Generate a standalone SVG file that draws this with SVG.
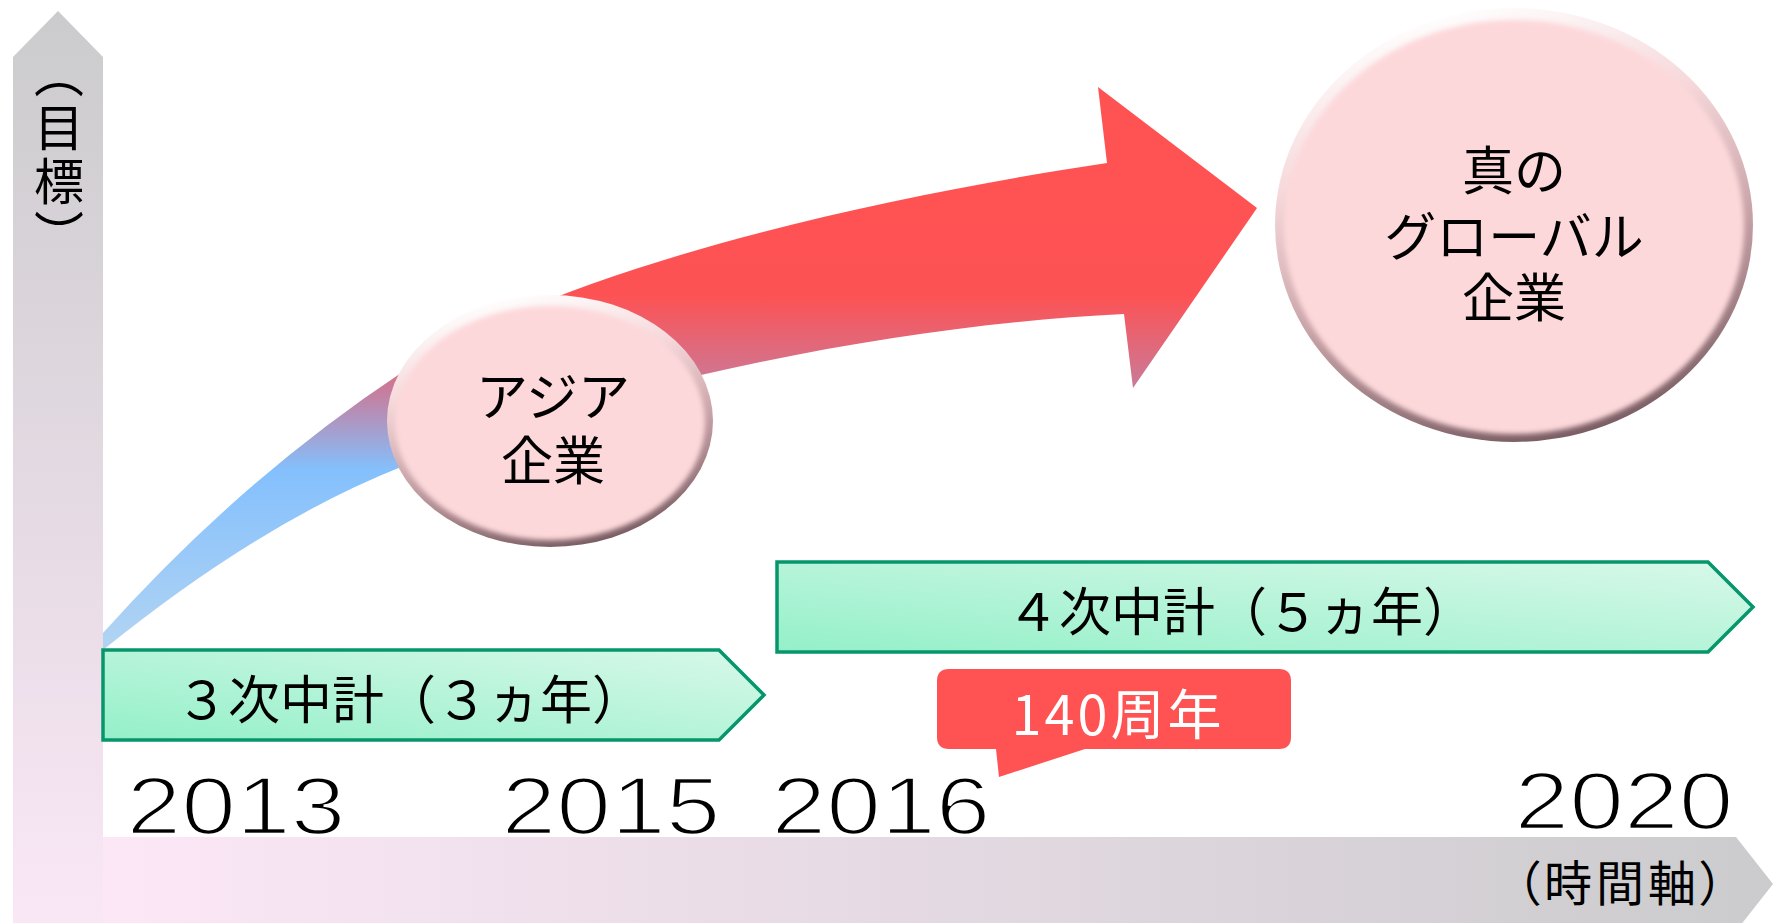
<svg xmlns="http://www.w3.org/2000/svg" width="1773" height="923" viewBox="0 0 1773 923">
<style>
.jp { font-family: "Noto Sans CJK JP", "Noto Sans CJK SC", sans-serif; fill: #000; }
.yr { font-family: "Liberation Sans", Arial, sans-serif; font-size: 82px; fill: #000; stroke: #fff; stroke-width: 2.6; text-anchor: middle; }
.box { fill: url(#gBox); stroke: #07966c; stroke-width: 3.5; stroke-linejoin: miter; }
.lbl { font-size: 52px; text-anchor: middle; }
</style>
<defs>
  <linearGradient id="gV" x1="0" y1="0" x2="0" y2="1">
    <stop offset="0" stop-color="#cbcbcd"/>
    <stop offset="1" stop-color="#fae7f6"/>
  </linearGradient>
  <linearGradient id="gH" x1="0" y1="0" x2="1" y2="0">
    <stop offset="0" stop-color="#fce7f7"/>
    <stop offset="1" stop-color="#cbcbcd"/>
  </linearGradient>
  <linearGradient id="gArrow" gradientUnits="userSpaceOnUse" x1="0" y1="87" x2="0" y2="650">
    <stop offset="0" stop-color="#ff5252"/>
    <stop offset="0.37" stop-color="#fd5254"/>
    <stop offset="0.535" stop-color="#c97b9a"/>
    <stop offset="0.68" stop-color="#84c0fd"/>
    <stop offset="1" stop-color="#b2d4f2"/>
  </linearGradient>
  <linearGradient id="gBox" x1="0" y1="1" x2="1" y2="0">
    <stop offset="0" stop-color="#94f0c9"/>
    <stop offset="1" stop-color="#d8f8e9"/>
  </linearGradient>
  <linearGradient id="gRim" x1="0.35" y1="0" x2="0.65" y2="1">
    <stop offset="0" stop-color="#ffffff"/>
    <stop offset="0.3" stop-color="#f6d8da"/>
    <stop offset="0.6" stop-color="#c9a4a9"/>
    <stop offset="1" stop-color="#765a60"/>
  </linearGradient>
  <filter id="soft" x="-10%" y="-10%" width="120%" height="120%">
    <feGaussianBlur stdDeviation="2.4"/>
  </filter>
  <filter id="edge" x="-10%" y="-10%" width="120%" height="120%">
    <feGaussianBlur stdDeviation="0.7"/>
  </filter>
</defs>

<g id="axis-vertical">
  <polygon points="13,57 58,11 103,57 103,923 13,923" fill="url(#gV)"/>
  <text class="jp" x="59" y="48" font-size="50" writing-mode="vertical-rl" letter-spacing="4">（目標）</text>
</g>

<g id="axis-horizontal">
  <polygon points="103,837 1736,837 1773,884 1736,931 103,931" fill="url(#gH)"/>
  <text class="jp" x="1622" y="901" font-size="48" text-anchor="middle" letter-spacing="4" style="font-feature-settings:'palt'">（時間軸）</text>
</g>

<g id="connectors">
  <path d="M103,633 Q240,480 401,373 C560,270 860,200 1107,163 L1098,87 L1257,208 L1133,388 L1124,314 C900,325 620,380 401,467 Q260,523 103,650 Z" fill="url(#gArrow)"/>
</g>

<g id="node-asia">
  <ellipse cx="550" cy="421" rx="163" ry="126" fill="url(#gRim)" filter="url(#edge)"/>
  <ellipse cx="550" cy="423" rx="155" ry="117" fill="#fdd8da" filter="url(#soft)"/>
  <text class="jp lbl" x="553" y="416">アジア<tspan x="553" dy="64">企業</tspan></text>
</g>

<g id="node-global">
  <ellipse cx="1514" cy="225" rx="239" ry="217" fill="url(#gRim)" filter="url(#edge)"/>
  <ellipse cx="1514" cy="227" rx="230" ry="207" fill="#fdd8da" filter="url(#soft)"/>
  <text class="jp lbl" x="1514" y="190">真の<tspan x="1514" dy="66">グローバル</tspan><tspan x="1514" dy="61">企業</tspan></text>
</g>

<g id="node-plan3">
  <polygon class="box" points="103,650 719,650 764,695 719,740 103,740"/>
  <text class="jp lbl" x="410" y="719">３次中計（３ヵ年）</text>
</g>

<g id="node-plan4">
  <polygon class="box" points="777,562 1708,562 1753,607 1708,652 777,652"/>
  <text class="jp lbl" x="1241" y="631">４次中計（５ヵ年）</text>
</g>

<g id="node-140">
  <path d="M949,669 H1279 Q1291,669 1291,681 V737 Q1291,749 1279,749 H1085 L999,777 L996,749 H949 Q937,749 937,737 V681 Q937,669 949,669 Z" fill="#ff5252"/>
  <text class="jp" x="1118" y="735" font-size="54" text-anchor="middle" style="fill:#fff" letter-spacing="3">140周年</text>
</g>

<g id="years">
  <text class="yr" transform="translate(236,834) scale(1.2,1)">2013</text>
  <text class="yr" transform="translate(611,834) scale(1.2,1)">2015</text>
  <text class="yr" transform="translate(881,834) scale(1.2,1)">2016</text>
  <text class="yr" transform="translate(1624,829) scale(1.2,1)">2020</text>
</g>
</svg>
